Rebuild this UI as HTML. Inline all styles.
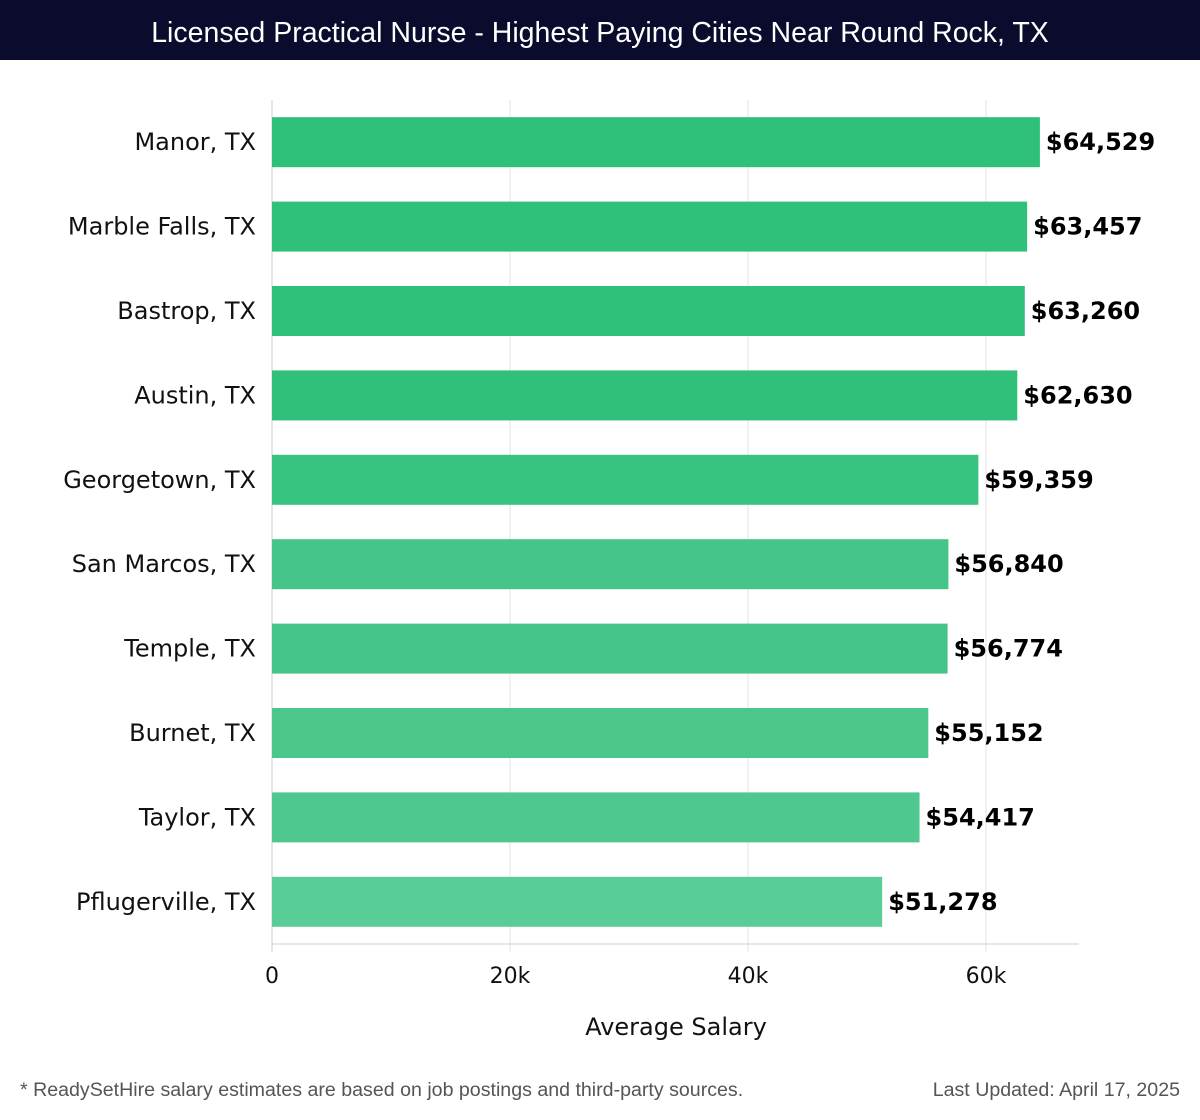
<!DOCTYPE html>
<html><head><meta charset="utf-8"><style>
body{margin:0;width:1200px;height:1120px;background:#fff;font-family:"Liberation Sans",sans-serif;overflow:hidden;position:relative}
#title{position:absolute;left:0;top:0;width:1200px;height:60px;background:#0b0b2e;color:#fff;font-size:28.5px;line-height:66px;text-align:center;font-weight:300}
.foot{position:absolute;top:1079px;font-size:19.6px;color:#555}
</style></head><body>
<div id="title">Licensed Practical Nurse - Highest Paying Cities Near Round Rock, TX</div>
<svg id="chart" width="1200" height="1070" style="position:absolute;left:0;top:0"></svg>
<div class="foot" style="left:20px">* ReadySetHire salary estimates are based on job postings and third-party sources.</div>
<div class="foot" style="right:20px">Last Updated: April 17, 2025</div>
<script>
const cities=["Manor, TX","Marble Falls, TX","Bastrop, TX","Austin, TX","Georgetown, TX","San Marcos, TX","Temple, TX","Burnet, TX","Taylor, TX","Pflugerville, TX"];
const salaries=[64529,63457,63260,62630,59359,56840,56774,55152,54417,51278];
const ticks=[0,20000,40000,60000];
const tickLabels=["0","20k","40k","60k"];
const colors=["#2ebf78","#2fc07a","#2fc07a","#30c07a","#38c380","#45c589","#45c589","#4bc78c","#4ec88e","#5acc98"];
const NS="http://www.w3.org/2000/svg";
const F='DejaVu Sans, sans-serif';
const svg=document.getElementById('chart');
const x0=272,pxPer=238/20000,top0=100,band=84.4,barH=50,xEnd=1079,yBot=944;
const xs=v=>x0+v*pxPer;
const ys=i=>top0+i*band+(band-barH)/2;
function mk(t,a){const e=document.createElementNS(NS,t);for(const k in a)e.setAttribute(k,a[k]);svg.appendChild(e);return e;}
ticks.forEach((t,i)=>{
 const g=mk('line',{x1:xs(t),x2:xs(t),y1:top0,y2:yBot+8,stroke:i==0?'#ccc':'#e3e3e3','stroke-width':1});
 
 
 const l=mk('text',{x:xs(t),y:983,'font-size':22,'text-anchor':'middle',fill:'#111','font-family':F});
 l.textContent=tickLabels[i];
 
 
});
const ax=mk('line',{x1:x0,x2:xEnd,y1:yBot,y2:yBot,stroke:'#ccc'});


cities.forEach((c,i)=>{
 const y=ys(i);
 const r=mk('rect',{x:x0,y:y,width:xs(salaries[i])-x0,height:barH,fill:colors[i]});
 
 
 const n=mk('text',{x:256,y:y+barH/2+8,'font-size':24,'text-anchor':'end',fill:'#111','font-family':F});
 n.textContent=c;
 
 
 const v=mk('text',{x:xs(salaries[i])+6,y:y+barH/2+8,'font-size':24,'font-weight':'bold',fill:'#000','font-family':F});
 v.textContent='$'+salaries[i].toLocaleString('en-US');
 
 
});
const at=mk('text',{x:676,y:1035,'font-size':24,'text-anchor':'middle',fill:'#111','font-family':F});
at.textContent='Average Salary';


</script>
</body></html>
